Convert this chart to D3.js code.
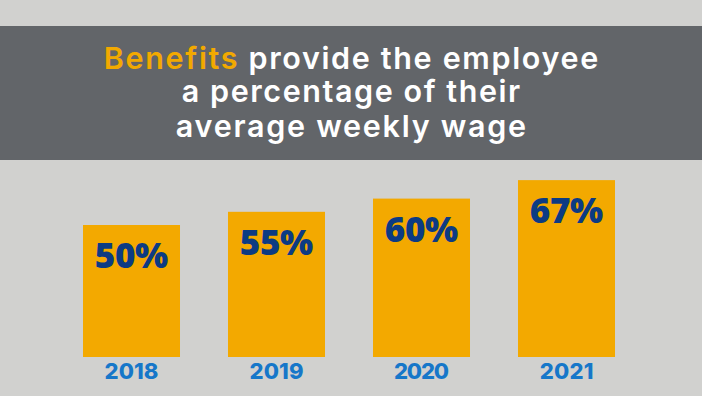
<!DOCTYPE html>
<html><head><meta charset="utf-8">
<script src="https://cdn.jsdelivr.net/npm/d3@7"></script>
<style>html,body{margin:0;padding:0;background:#d1d1cf;}svg{display:block;}</style>
</head><body>
<script>
const years = ["2018", "2019", "2020", "2021"];
const benefitPct = [50, 55, 60, 67];
const valueLabels = ["50%", "55%", "60%", "67%"];
const titleHighlight = "Benefits";
const titleLines = [" provide the employee", "a percentage of their", "average weekly wage"];

const W = 702, H = 396;
const svg = d3.select("body").append("svg").attr("width", W).attr("height", H);
svg.append("rect").attr("width", W).attr("height", H).attr("fill", "#d1d1cf");

// header band
svg.append("rect").attr("x", 0).attr("y", 26).attr("width", W).attr("height", 134).attr("fill", "#626569");

const titleFont = "Inter, 'Open Sans', sans-serif";
const targets = [{w: 496, y: 69}, {w: 340, y: 102}, {w: 352, y: 137}];
function spreadText(t, w, cx) {
  const len = t.node().getComputedTextLength();
  const n = t.text().length;
  const ls = (w - len) / n;
  t.attr("letter-spacing", ls).attr("x", cx + ls / 2);
}
const t1 = svg.append("text").attr("x", W / 2).attr("y", targets[0].y).attr("text-anchor", "middle")
  .attr("font-family", titleFont).attr("font-weight", 600).attr("font-size", 30.5).attr("fill", "#ffffff");
t1.append("tspan").attr("fill", "#f2a900").text(titleHighlight);
t1.append("tspan").text(titleLines[0]);
spreadText(t1, targets[0].w, W / 2);
for (let i = 1; i < 3; i++) {
  const t = svg.append("text").attr("x", W / 2).attr("y", targets[i].y).attr("text-anchor", "middle")
    .attr("font-family", titleFont).attr("font-weight", 600).attr("font-size", 30.5).attr("fill", "#ffffff").text(titleLines[i]);
  spreadText(t, targets[i].w, W / 2);
}

const x = d3.scaleBand().domain(years).range([59, 639]).paddingInner(0.331).paddingOuter(0.1655);
const y = d3.scaleLinear().domain([0, 100]).range([357, 93]);

const data = years.map((yr, i) => ({yr, v: benefitPct[i], lab: valueLabels[i]}));

svg.selectAll("rect.bar").data(data).join("rect").attr("class", "bar")
  .attr("x", d => x(d.yr)).attr("width", x.bandwidth())
  .attr("y", d => y(d.v)).attr("height", d => y(0) - y(d.v))
  .attr("fill", "#f3a900");

const vl = svg.selectAll("text.val").data(data).join("text").attr("class", "val")
  .attr("x", d => x(d.yr) + x.bandwidth() / 2).attr("y", d => y(d.v) + 43)
  .attr("text-anchor", "middle").attr("font-family", "'Open Sans', sans-serif")
  .attr("font-weight", 800).attr("fill", "#0c3b83").attr("font-size", 35)
  .text(d => d.lab);
vl.each(function(d) { spreadText(d3.select(this), 73, x(d.yr) + x.bandwidth() / 2); });

const axis = d3.axisBottom(x).tickSize(0).tickPadding(0);
const g = svg.append("g").attr("transform", "translate(0,357)").call(axis);
g.select(".domain").remove();
g.selectAll("text").attr("y", 22).attr("dy", 0)
  .attr("font-family", "Inter, 'Open Sans', sans-serif").attr("font-weight", 800)
  .attr("font-size", 22).attr("fill", "#1677c9");
g.selectAll("text").each(function() { spreadText(d3.select(this), 54, 0); });
</script>
</body></html>
